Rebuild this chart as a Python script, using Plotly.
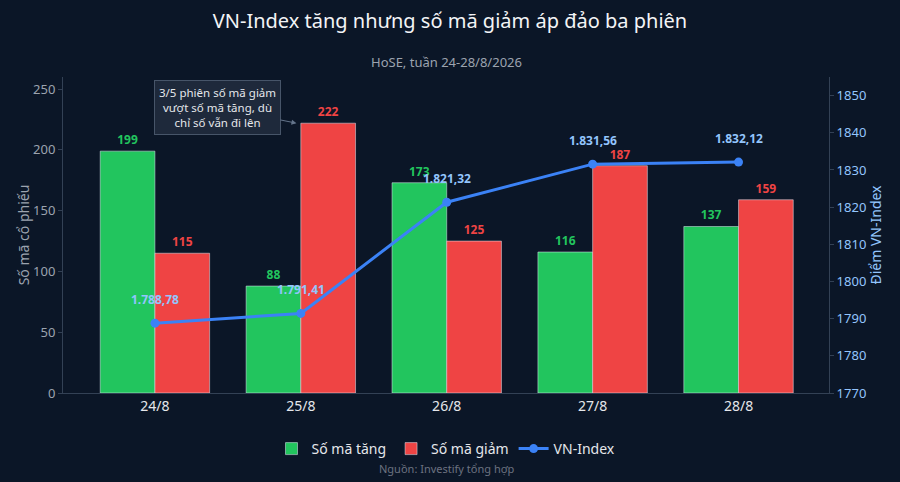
import plotly.graph_objects as go

days = ["24/8", "25/8", "26/8", "27/8", "28/8"]
so_ma_tang = [199, 88, 173, 116, 137]
so_ma_giam = [115, 222, 125, 187, 159]
vn_index = [1788.78, 1791.41, 1821.32, 1831.56, 1832.12]

bg = "#0b1627"
green = "#22c55e"
red = "#ef4444"
blue = "#3b82f6"
light_blue = "#93c5fd"
grey = "#9ca3af"
axis_line = "#334155"

fig = go.Figure()
fig.add_trace(go.Bar(
    x=days, y=so_ma_tang, name="Số mã tăng",
    marker_color=green, text=so_ma_tang, textposition="outside",
    textfont=dict(color=green, size=12, family="Noto Sans", weight="bold"),
    cliponaxis=False,
))
fig.add_trace(go.Bar(
    x=days, y=so_ma_giam, name="Số mã giảm",
    marker_color=red, text=so_ma_giam, textposition="outside",
    textfont=dict(color=red, size=12, family="Noto Sans", weight="bold"),
    cliponaxis=False,
))
fig.add_trace(go.Scatter(
    x=days, y=vn_index, name="VN-Index", yaxis="y2",
    mode="lines+markers",
    line=dict(color=blue, width=3), marker=dict(size=9, color=blue),
    cliponaxis=False,
))

# VN-Index value labels, a bit higher above the markers
for d, v in zip(days, vn_index):
    label = f"{v:,.2f}".replace(",", " ").replace(".", ",").replace(" ", ".")
    fig.add_annotation(
        x=d, y=v, xref="x", yref="y2", text=label, showarrow=False,
        yshift=24, font=dict(color=light_blue, size=12, family="Noto Sans", weight="bold"),
    )

plot_top, plot_bottom = 77, 393

fig.add_annotation(
    x=0.97, y=222, xref="x", yref="y",
    text="3/5 phiên số mã giảm<br>vượt số mã tăng, dù<br>chỉ số vẫn đi lên",
    showarrow=True, arrowhead=2, arrowsize=1, arrowwidth=1, arrowcolor="#64748b",
    ax=-79, ay=-16,
    font=dict(color="#e5e7eb", size=11.5),
    bgcolor="#1e293b", bordercolor="#475569", borderwidth=1, borderpad=4,
)
fig.add_annotation(
    x=0.5, y=(plot_bottom - 62) / (plot_bottom - plot_top), xref="paper", yref="paper",
    yanchor="middle",
    text="HoSE, tuần 24-28/8/2026", showarrow=False,
    font=dict(color=grey, size=13),
)
fig.add_annotation(
    x=0.5, y=(plot_bottom - 468) / (plot_bottom - plot_top), xref="paper", yref="paper",
    yanchor="middle",
    text="Nguồn: Investify tổng hợp", showarrow=False,
    font=dict(color="#6b7280", size=11),
)

fig.update_layout(
    width=900, height=482,
    paper_bgcolor=bg, plot_bgcolor=bg,
    font=dict(family="Noto Sans", color="#e5e7eb"),
    title=dict(text="VN-Index tăng nhưng số mã giảm áp đảo ba phiên",
               x=0.5, xanchor="center", y=1 - 21 / 482, yanchor="middle",
               font=dict(size=20, color="#f3f4f6")),
    margin=dict(l=63, r=71, t=plot_top, b=482 - plot_bottom),
    barmode="group", bargap=0.25, bargroupgap=0,
    showlegend=True,
    legend=dict(orientation="h", x=0.5, xanchor="center",
                y=(plot_bottom - 449) / (plot_bottom - plot_top), yanchor="middle",
                font=dict(size=14, color="#e5e7eb"), bgcolor="rgba(0,0,0,0)"),
    xaxis=dict(range=[-0.63, 4.62], showgrid=False, showline=True, linecolor=axis_line,
               tickfont=dict(size=14, color="#e5e7eb"), ticks="", zeroline=False),
    yaxis=dict(range=[0, 260], dtick=50, showgrid=False, showline=True, linecolor=axis_line,
               ticks="outside", ticklen=4, tickcolor=axis_line, zeroline=False,
               tickfont=dict(size=13, color=grey),
               title=dict(text="Số mã cổ phiếu", standoff=0,
                          font=dict(size=14, color=grey))),
    yaxis2=dict(range=[1770, 1855], dtick=10, overlaying="y", side="right",
                showgrid=False, showline=True, linecolor=axis_line, zeroline=False,
                ticks="outside", ticklen=4, tickcolor=axis_line,
                tickformat="d",
                tickfont=dict(size=13, color=light_blue),
                title=dict(text="Điểm VN-Index", standoff=0,
                           font=dict(size=14, color=light_blue))),
)

fig.write_html("out.html", config={"displayModeBar": False},
               post_script="document.body.style.margin='0';")
